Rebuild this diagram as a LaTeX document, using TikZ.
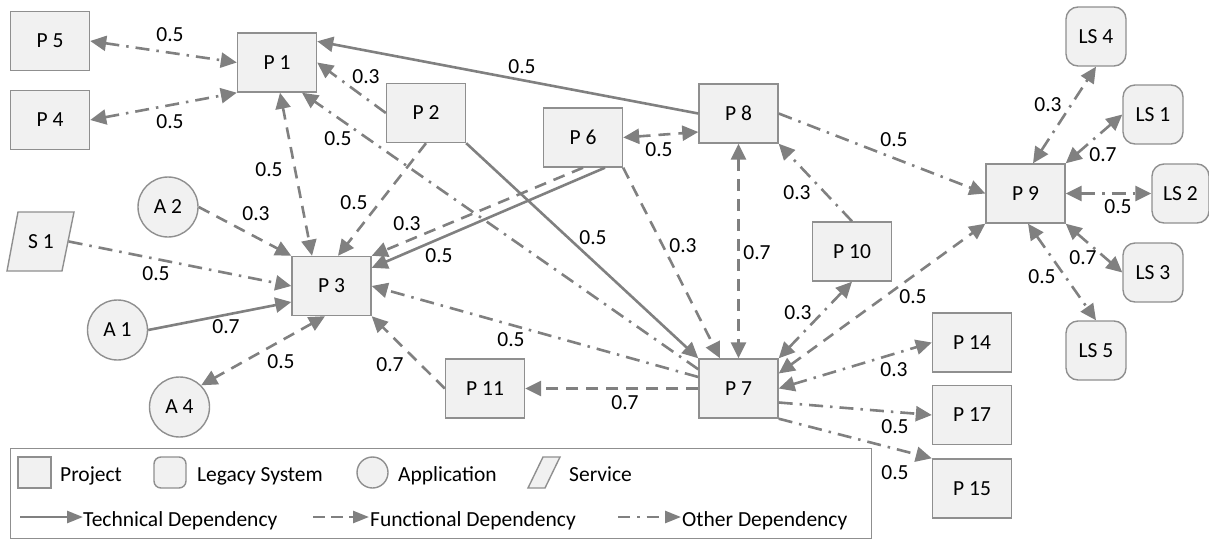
\documentclass[tikz,border=0pt]{standalone}
\usepackage{fontspec}
\setmainfont{Carlito}
\usetikzlibrary{arrows.meta,calc}
\definecolor{lc}{HTML}{808080}
\definecolor{bc}{HTML}{8F8F8F}
\definecolor{fc}{HTML}{F1F1F1}
\begin{document}
\begin{tikzpicture}[x=1pt,y=-1pt, font=\fontsize{21.5}{24}\selectfont,
 box/.style={draw=bc, fill=fc, line width=1.4pt, minimum width=79pt, minimum height=59pt, inner sep=0pt},
 ls/.style={box, rounded corners=12pt, minimum width=60pt},
 app/.style={draw=bc, fill=fc, line width=1.4pt, circle, minimum size=60pt, inner sep=0pt},
 lbl/.style={inner sep=0pt},
 dep/.style={draw=lc, line width=2.6pt, >={Triangle[length=16pt,width=15pt]}},
 tdep/.style={dep},
 fdep/.style={dep, dash pattern=on 12pt off 8pt},
 odep/.style={dep, dash pattern=on 14pt off 7pt on 2.5pt off 7pt},
 legtip/.style={>={Triangle[length=16pt,width=12pt]}},
]
\path[use as bounding box] (0,0) rectangle (1209,541);

% service shape
\draw[draw=bc, fill=fc, line width=1.4pt] (18,212) -- (74,212) -- (62,271) -- (7,271) -- cycle;

% nodes
\node[box] (P5) at (50,41) {P 5};
\node[box] (P4) at (50,120) {P 4};
\node[box] (P1) at (277,62.5) {P 1};
\node[box] (P2) at (426,113) {P 2};
\node[box] (P6) at (583,137.5) {P 6};
\node[box] (P8) at (738.5,113.5) {P 8};
\node[box] (P10) at (852,251.5) {P 10};
\node[box] (P9) at (1025.5,193.5) {P 9};
\node[box] (P3) at (331.5,286) {P 3};
\node[box] (P7) at (738.5,388.5) {P 7};
\node[box] (P11) at (485,388.5) {P 11};
\node[box] (P14) at (972,342.5) {P 14};
\node[box] (P17) at (972,415) {P 17};
\node[box] (P15) at (972,488.5) {P 15};
\node[ls] (LS4) at (1096,36.5) {LS 4};
\node[ls] (LS1) at (1153,114.5) {LS 1};
\node[ls, minimum width=57pt] (LS2) at (1180.5,193.5) {LS 2};
\node[ls] (LS3) at (1153,272.5) {LS 3};
\node[ls] (LS5) at (1096,350.5) {LS 5};
\node[app] (A2) at (168,207) {A 2};
\node[app] (A1) at (117.5,330) {A 1};
\node[app] (A4) at (179.5,407) {A 4};
\node[minimum width=67pt, minimum height=59pt, inner sep=0pt] (S1) at (41,241.5) {S 1};

% connectors
\draw[odep,<->] (P5.east) -- (P1.west);
\draw[odep,<->] (P4.east) -- (P1.south west);
\draw[tdep,->] (P8.west) -- ($(P1.north east)+(0,9)$);
\draw[odep,->] (P2.west) -- (P1.east);
\draw[odep,->] ($(P7.north west)+(0,11)$) -- ($(P1.south)+(25,0)$);
\draw[fdep,<->] ($(P1.south)+(3,0)$) -- ($(P3.north)+(-19.5,0)$);
\draw[fdep,->] (P2.south) -- ($(P3.north)+(6.5,0)$);
\draw[tdep,->] (P2.south east) -- (P7.north west);
\draw[fdep,->] (P6.south) -- (P3.north east);
\draw[tdep,->] ($(P6.south)+(22,0)$) -- ($(P3.north east)+(0,12)$);
\draw[fdep,->] (A2.east) -- (P3.north west);
\draw[odep,->] ($(S1.east)+(-6,0)$) -- (P3.west);
\draw[tdep,->] (A1.east) -- ($(P3.west)+(0,16)$);
\draw[fdep,<->] ($(P3.south)+(-6.5,0)$) -- (A4.45);
\draw[fdep,->] (P11.west) -- (P3.south east);
\draw[fdep,->] (P7.west) -- (P11.east);
\draw[odep,->] ($(P7.west)+(0,-11.5)$) -- (P3.east);
\draw[fdep,<->] (P6.east) -- ($(P8.west)+(0,18.5)$);
\draw[fdep,->] (P6.south east) -- ($(P7.north)+(-18.5,0)$);
\draw[fdep,<->] (P8.south) -- (P7.north);
\draw[odep,->] (P10.north) -- (P8.south east);
\draw[odep,<->] (P7.north east) -- (P10.south);
\draw[odep,->] (P8.east) -- (P9.west);
\draw[fdep,<->] ($(P7.east)+(0,-15)$) -- (P9.south west);
\draw[odep,<->] (P7.east) -- (P14.west);
\draw[odep,->] ($(P7.east)+(0,14)$) -- (P17.west);
\draw[odep,->] (P7.south east) -- (P15.north west);
\draw[odep,<->] ($(P9.north)+(7.5,0)$) -- (LS4.south);
\draw[odep,<->] (P9.north east) -- (LS1.west);
\draw[odep,<->] (P9.east) -- (LS2.west);
\draw[odep,<->] (P9.south east) -- (LS3.west);
\draw[odep,<->] ($(P9.south)+(2.5,0)$) -- (LS5.north);

% labels
\node[lbl] (l1) at (170,35) {0.5};
\node[lbl] (l2) at (170,122) {0.5};
\node[lbl] (l3) at (366,77) {0.3};
\node[lbl] (l4) at (338,139) {0.5};
\node[lbl] (l5) at (269,170) {0.5};
\node[lbl] (l6) at (522,67) {0.5};
\node[lbl] (l7) at (256,214) {0.3};
\node[lbl] (l8) at (354,203) {0.5};
\node[lbl] (l9) at (407,224) {0.3};
\node[lbl] (l10) at (439,256) {0.5};
\node[lbl] (l11) at (156,274) {0.5};
\node[lbl] (l12) at (226,327) {0.7};
\node[lbl] (l13) at (281,362) {0.5};
\node[lbl] (l14) at (390,365) {0.7};
\node[lbl] (l15) at (511,340) {0.5};
\node[lbl] (l16) at (625,403) {0.7};
\node[lbl] (l17) at (593,238) {0.5};
\node[lbl] (l18) at (683,246) {0.3};
\node[lbl] (l19) at (757,253) {0.7};
\node[lbl] (l20) at (659,150) {0.5};
\node[lbl] (l21) at (797,193) {0.3};
\node[lbl] (l22) at (894,140) {0.5};
\node[lbl] (l23) at (798,313) {0.3};
\node[lbl] (l24) at (913,297) {0.5};
\node[lbl] (l25) at (894,370) {0.3};
\node[lbl] (l26) at (895,427) {0.5};
\node[lbl] (l27) at (895,473) {0.5};
\node[lbl] (l28) at (1048,105) {0.3};
\node[lbl] (l29) at (1103,155) {0.7};
\node[lbl] (l30) at (1118,207) {0.5};
\node[lbl] (l31) at (1083,258) {0.7};
\node[lbl] (l32) at (1042,277) {0.5};

% legend
\node[draw=bc, line width=1.4pt, fill=white, minimum width=861pt, minimum height=90pt, inner sep=0pt, anchor=north west] (legend) at (10,448) {};
\node[box, minimum width=33pt, minimum height=31pt] (lgP) at (34.5,472.5) {};
\node[lbl, anchor=base west] (lgPt) at (60,481) {Project};
\node[box, rounded corners=7pt, minimum width=32pt, minimum height=31pt] (lgL) at (170,472.5) {};
\node[lbl, anchor=base west] (lgLt) at (197,481) {Legacy System};
\node[app, minimum size=31pt] (lgA) at (372.5,472.5) {};
\node[lbl, anchor=base west] (lgAt) at (398,481) {Application};
\draw[draw=bc, fill=fc, line width=1.4pt] (543,457) -- (560,457) -- (545,488) -- (528,488) -- cycle;
\node[lbl, anchor=base west] (lgSt) at (569,481) {Service};
\coordinate (t1) at (20,517); \coordinate (t2) at (83,517);
\coordinate (f1) at (313,517); \coordinate (f2) at (369,517);
\coordinate (o1) at (618,517); \coordinate (o2) at (681,517);
\draw[tdep,legtip,->] (t1) -- (t2);
\draw[fdep,legtip,dash pattern=on 12pt off 6pt,->] (f1) -- (f2);
\draw[odep,legtip,dash pattern=on 12pt off 7pt on 2.5pt off 7pt,->] (o1) -- (o2);
\node[lbl, anchor=base west] (lgTt) at (83,526) {Technical Dependency};
\node[lbl, anchor=base west] (lgFt) at (370,526) {Functional Dependency};
\node[lbl, anchor=base west] (lgOt) at (682,526) {Other Dependency};
\end{tikzpicture}
\end{document}
